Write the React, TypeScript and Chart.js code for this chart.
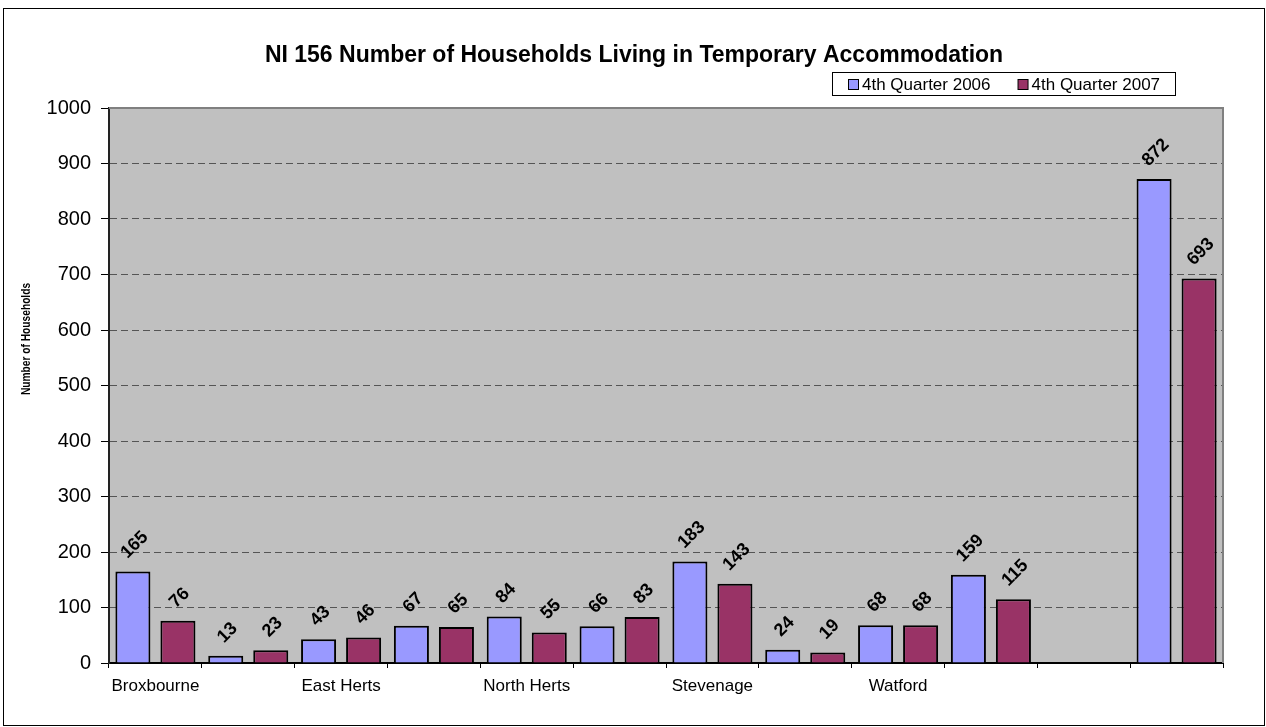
import React, { useEffect, useRef } from 'react';
import { Chart, registerables } from 'chart.js';

Chart.register(...registerables);

const TITLE = 'NI 156 Number of Households Living in Temporary Accommodation';
const Y_TITLE = 'Number of Households';
const categories = [
  'Broxbourne', 'Dacorum', 'East Herts', 'Hertsmere', 'North Herts', 'St Albans',
  'Stevenage', 'Three Rivers', 'Watford', 'Welwyn Hatfield', '', 'Hertfordshire',
];
const seriesNames = ['4th Quarter 2006', '4th Quarter 2007'];
const q4_2006 = [165, 13, 43, 67, 84, 66, 183, 24, 68, 159, null, 872];
const q4_2007 = [76, 23, 46, 65, 55, 83, 143, 19, 68, 115, null, 693];
const seriesColors = ['#9999FF', '#993366'];
const yMin = 0;
const yMax = 1000;
const yStep = 100;

const FONT = "'Liberation Sans', Arial, sans-serif";

const decorPlugin = {
  id: 'decor',
  beforeDraw(chart: any) {
    const { ctx, chartArea: a } = chart;
    ctx.save();
    ctx.fillStyle = '#ffffff';
    ctx.fillRect(0, 0, chart.width, chart.height);
    ctx.fillStyle = '#C0C0C0';
    ctx.fillRect(a.left, a.top, a.right - a.left, a.bottom - a.top);
    ctx.restore();
  },
  afterDraw(chart: any) {
    const { ctx, chartArea: a } = chart;
    ctx.save();
    // plot top/right border
    ctx.strokeStyle = '#808080';
    ctx.lineWidth = 2;
    ctx.beginPath();
    ctx.moveTo(a.left, a.top);
    ctx.lineTo(a.right, a.top);
    ctx.lineTo(a.right, a.bottom);
    ctx.stroke();
    // outer frame
    ctx.strokeStyle = '#000000';
    ctx.lineWidth = 1;
    ctx.strokeRect(3.5, 8.5, 1261, 717);
    // title
    ctx.fillStyle = '#000';
    ctx.font = `bold 23px ${FONT}`;
    ctx.textAlign = 'center';
    ctx.textBaseline = 'alphabetic';
    ctx.fillText(TITLE, 634, 62);
    // y axis title
    ctx.save();
    ctx.translate(27, 339);
    ctx.rotate(-Math.PI / 2);
    ctx.scale(0.85, 1);
    ctx.font = `bold 12px ${FONT}`;
    ctx.textAlign = 'center';
    ctx.textBaseline = 'middle';
    ctx.fillText(Y_TITLE, 0, 0);
    ctx.restore();
    // legend
    ctx.fillStyle = '#fff';
    ctx.fillRect(832.5, 72.5, 343, 23);
    ctx.strokeStyle = '#000';
    ctx.lineWidth = 1;
    ctx.strokeRect(832.5, 72.5, 343, 23);
    ctx.font = `17px ${FONT}`;
    ctx.textAlign = 'left';
    ctx.textBaseline = 'middle';
    let x = 848;
    chart.data.datasets.forEach((ds: any) => {
      ctx.fillStyle = ds.backgroundColor;
      ctx.fillRect(x + 0.5, 79.5, 10, 10);
      ctx.strokeStyle = '#000';
      ctx.strokeRect(x + 0.5, 79.5, 10, 10);
      ctx.fillStyle = '#000';
      ctx.fillText(ds.label, x + 14, 85);
      x += 14 + ctx.measureText(ds.label).width + 27;
    });
    ctx.restore();
  },
  afterDatasetsDraw(chart: any) {
    const { ctx } = chart;
    ctx.save();
    ctx.fillStyle = '#000';
    ctx.font = `bold 18px ${FONT}`;
    ctx.textAlign = 'center';
    ctx.textBaseline = 'middle';
    chart.data.datasets.forEach((ds: any, di: number) => {
      const meta = chart.getDatasetMeta(di);
      meta.data.forEach((bar: any, i: number) => {
        const v = ds.data[i];
        if (v === null || v === undefined) return;
        const text = String(v);
        const w = ctx.measureText(text).width;
        const h = 18 * 0.72;
        const H = (w + h) / Math.SQRT2;
        const cy = bar.y - 12 - H / 2;
        ctx.save();
        ctx.translate(bar.x + 1, cy);
        ctx.rotate(-Math.PI / 4);
        ctx.fillText(text, 0, 1);
        ctx.restore();
      });
    });
    ctx.restore();
  },
};

export default function App() {
  const ref = useRef<HTMLCanvasElement | null>(null);
  useEffect(() => {
    if (!ref.current) return;
    const chart = new Chart(ref.current, {
      type: 'bar',
      data: {
        labels: categories,
        datasets: [
          {
            label: seriesNames[0],
            data: q4_2006,
            backgroundColor: seriesColors[0],
            borderColor: '#000',
            borderWidth: 2,
            categoryPercentage: 0.97,
            barPercentage: 0.778,
          },
          {
            label: seriesNames[1],
            data: q4_2007,
            backgroundColor: seriesColors[1],
            borderColor: '#000',
            borderWidth: 2,
            categoryPercentage: 0.97,
            barPercentage: 0.778,
          },
        ],
      },
      options: {
        animation: false,
        responsive: false,
        devicePixelRatio: 1,
        layout: { padding: { left: 0, right: 43, top: 108, bottom: 24 } },
        plugins: {
          legend: { display: false },
          title: { display: false },
          tooltip: { enabled: false },
        },
        scales: {
          x: {
            grid: {
              offset: true,
              drawOnChartArea: false,
              drawTicks: true,
              tickLength: 5,
              tickColor: '#000',
              color: '#000',
            },
            border: { color: '#000', width: 2 },
            ticks: {
              autoSkip: false,
              maxRotation: 0,
              minRotation: 0,
              padding: 8,
              color: '#000',
              font: { family: FONT, size: 17 },
              callback: (_v: any, i: number) => (i % 2 === 0 ? categories[i] : ''),
            },
            afterFit: (s: any) => {
              s.height = 40;
            },
          },
          y: {
            min: yMin,
            max: yMax,
            ticks: {
              stepSize: yStep,
              padding: 10,
              color: '#000',
              font: { family: FONT, size: 20 },
              callback: (v: any) => String(v),
            },
            grid: {
              color: '#555',
              lineWidth: 1,
              tickLength: 8,
              tickColor: '#000',
              tickBorderDash: [],
            },
            border: { color: '#222', width: 2, dash: [7, 4] },
            afterFit: (s: any) => {
              s.width = 109;
            },
          },
        },
      },
      plugins: [decorPlugin],
    });
    return () => chart.destroy();
  }, []);
  return (
    <div style={{ position: 'absolute', left: 0, top: 0, width: 1266, height: 727 }}>
      <canvas ref={ref} width={1266} height={727} />
    </div>
  );
}
